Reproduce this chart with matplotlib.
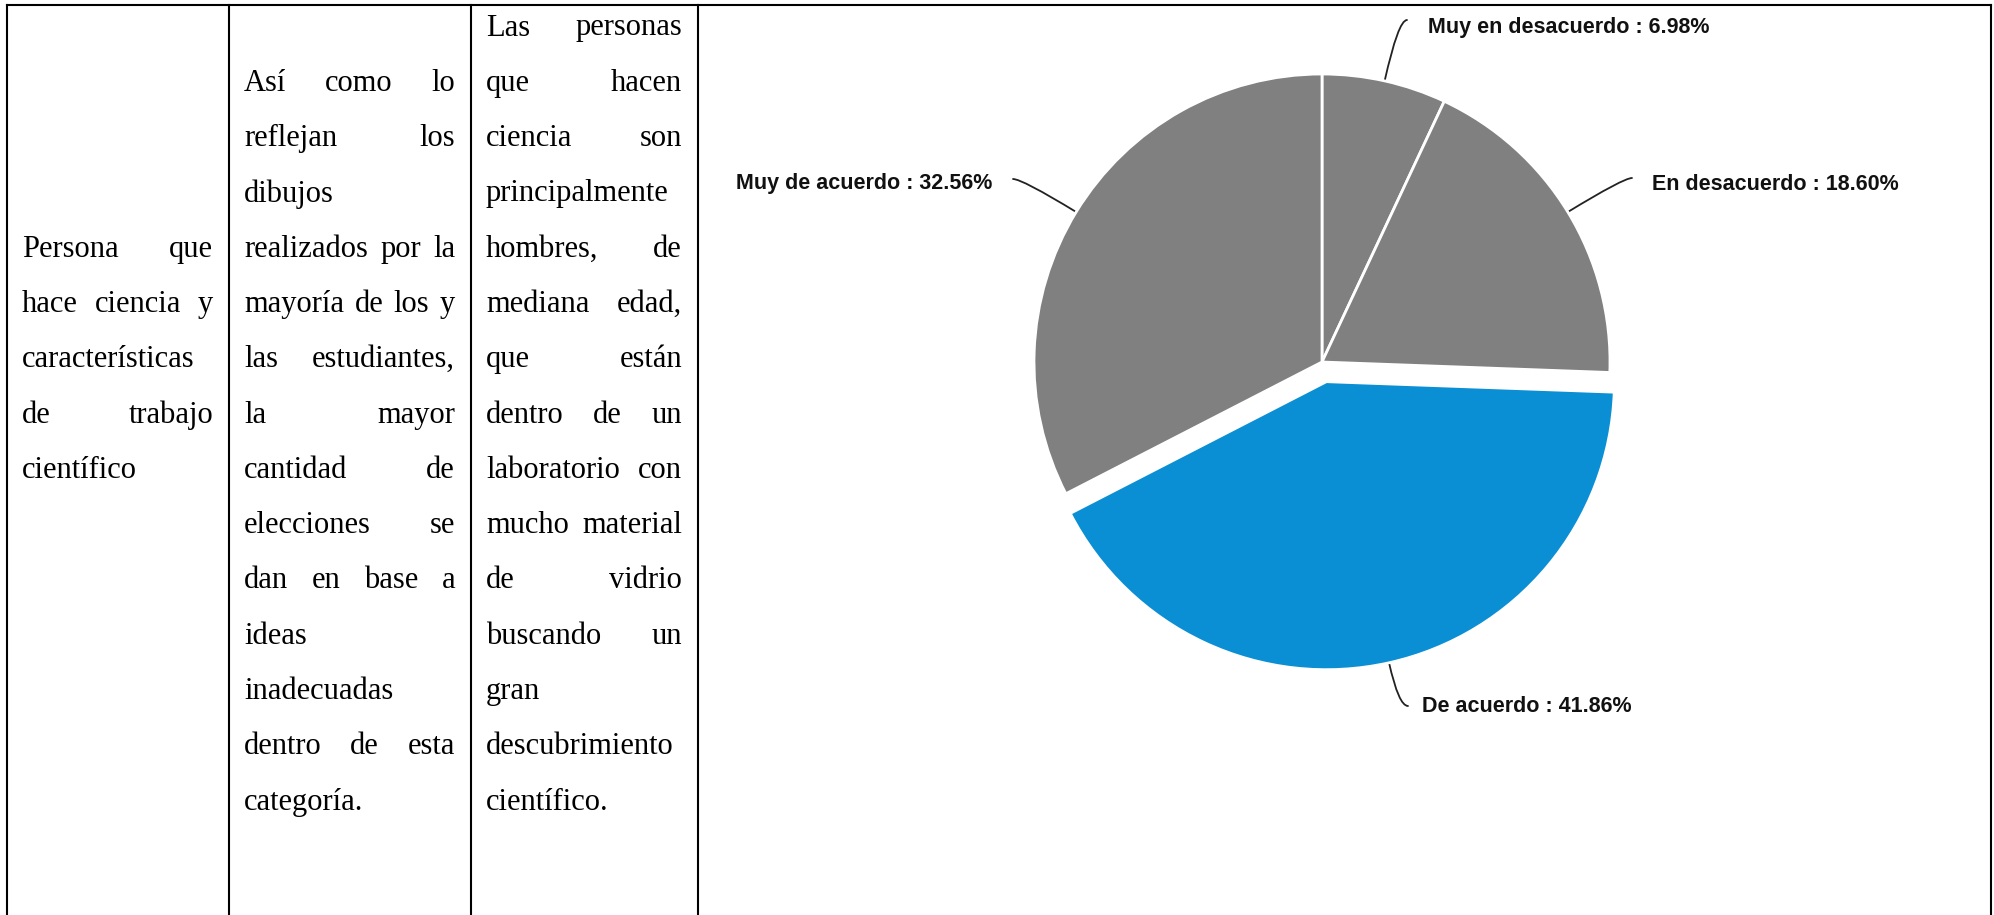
import matplotlib
matplotlib.use("Agg")
import matplotlib.pyplot as plt
import numpy as np

# table text, one list per column, one entry per printed line
col1_lines = ["Persona que", "hace ciencia y", "características", "de trabajo", "científico"]
col2_lines = ["Así como lo", "reflejan los", "dibujos", "realizados por la",
              "mayoría de los y", "las estudiantes,", "la mayor", "cantidad de",
              "elecciones se", "dan en base a", "ideas", "inadecuadas",
              "dentro de esta", "categoría."]
col3_lines = ["Las personas", "que hacen", "ciencia son", "principalmente",
              "hombres, de", "mediana edad,", "que están", "dentro de un",
              "laboratorio con", "mucho material", "de vidrio", "buscando un",
              "gran", "descubrimiento", "científico."]
first_rows = [4, 1, 0]

# pie data (clockwise from 12 o'clock)
categories = ["Muy en desacuerdo", "En desacuerdo", "De acuerdo", "Muy de acuerdo"]
shares = [6.98, 18.60, 41.86, 32.56]
slice_colors = ["#808080", "#808080", "#0a8fd4", "#808080"]
explode = [0, 0, 0.07, 0]

W, H = 1994, 915
fig = plt.figure(figsize=(W / 100, H / 100), dpi=100)
ax = fig.add_axes([0, 0, 1, 1])
ax.set_xlim(0, W)
ax.set_ylim(H, 0)
ax.axis('off')

# table grid
col_x = [7, 229, 471, 698, 1991]
top_y = 5
ax.plot([col_x[0], col_x[-1]], [top_y, top_y], color='black', lw=1.5, solid_capstyle='projecting')
for x in col_x:
    ax.plot([x, x], [top_y, H], color='black', lw=1.5)

renderer = fig.canvas.get_renderer()
fs = 22
serif = dict(family='Liberation Serif', fontsize=fs, va='center', color='black')


def put_line(words, x0, x1, y, justify):
    texts = [ax.text(0, y, w, **serif) for w in words]
    widths = [t.get_window_extent(renderer).width for t in texts]
    if justify and len(words) > 1:
        gap = (x1 - x0 - sum(widths)) / (len(words) - 1)
    else:
        gap = 0.25 * fs * 100 / 72
    x = x0
    for t, w in zip(texts, widths):
        t.set_x(x)
        x += w + gap


row0, row_h = 28, 55.3
for c, (lines, r0) in enumerate(zip([col1_lines, col2_lines, col3_lines], first_rows)):
    x0 = col_x[c] + 15
    x1 = col_x[c + 1] - 16
    for i, line in enumerate(lines):
        last = i == len(lines) - 1
        put_line(line.split(), x0, x1, row0 + (r0 + i) * row_h, not last)

# pie in its own square axes
cx, cy, rad_px, half = 1322, 362, 288, 450
axp = fig.add_axes([(cx - half) / W, (H - cy - half) / H, 2 * half / W, 2 * half / H])
wedges, _ = axp.pie(shares, colors=slice_colors, explode=explode, startangle=90,
                    counterclock=False, wedgeprops=dict(edgecolor='white', linewidth=2))
lim = half / rad_px
axp.set_xlim(-lim, lim)
axp.set_ylim(-lim, lim)
axp.axis('off')

# leader hook ends and label text positions (pixels, from top-left)
hook_ends = [(1407, 20), (1632, 178), (1408, 706), (1013, 179)]
label_pos = [(1428, 27, 'left'), (1652, 185, 'left'), (1422, 706, 'left'), (992, 183, 'right')]

for w, name, val, hook, (lx, ly, ha) in zip(wedges, categories, shares, hook_ends, label_pos):
    mid_deg = (w.theta1 + w.theta2) / 2
    mid = np.deg2rad(mid_deg)
    px = w.center[0] + w.r * np.cos(mid)
    py = w.center[1] + w.r * np.sin(mid)
    edge = ax.transData.inverted().transform(axp.transData.transform((px, py)))
    ax.annotate('', xy=edge, xytext=hook,
                arrowprops=dict(arrowstyle='-', color='#222222', lw=1.3,
                                connectionstyle=f'angle3,angleA=0,angleB={mid_deg % 180:.1f}',
                                shrinkA=0, shrinkB=0))
    ax.text(lx, ly, f"{name} : {val:.2f}%", ha=ha, va='center', family='Liberation Sans',
            fontweight='bold', fontsize=15.5, color='#111111')

fig.savefig("out.png", dpi=100, facecolor='white')
